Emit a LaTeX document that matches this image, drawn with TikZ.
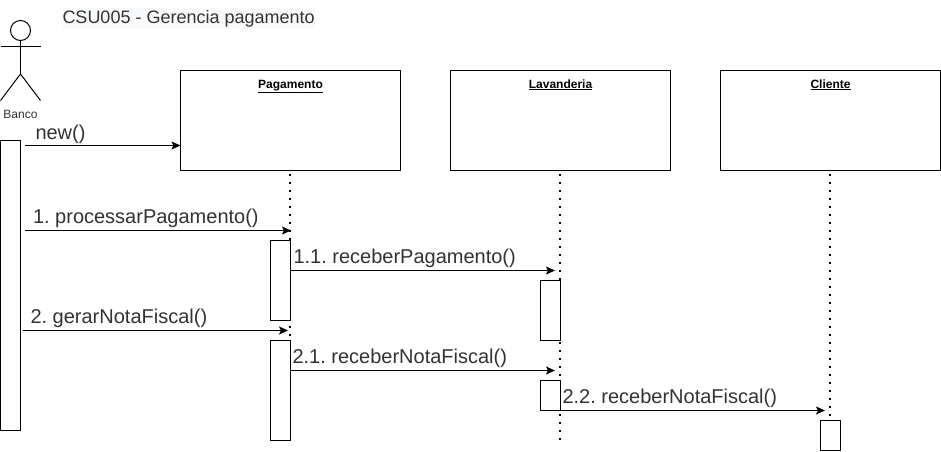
\documentclass[tikz,border=0pt]{standalone}
\usepackage{fontspec}
\setmainfont{Liberation Sans}
\usetikzlibrary{arrows.meta}
\definecolor{msgtext}{HTML}{333333}
\definecolor{titlebg}{HTML}{F8F9FA}
\frenchspacing
\tikzset{
  x=1pt,y=-1pt,
  every path/.style={line width=1pt},
  objbox/.style={draw=black,fill=white,minimum width=220pt,minimum height=100pt,inner sep=0pt,outer sep=0pt,anchor=north west},
  objname/.style={font=\fontsize{12}{14}\selectfont\bfseries,inner sep=0pt,anchor=base,text=black},
  actbox/.style={draw=black,fill=white,minimum width=20pt,inner sep=0pt,outer sep=0pt,anchor=north west},
  lifeline/.style={line width=1.8pt,dash pattern=on 1.8pt off 6.2pt},
  msg/.style={-{Stealth[length=9pt,width=8pt,inset=2pt]},line width=1pt},
  msglabel/.style={font=\fontsize{20}{22}\selectfont,text=msgtext,inner sep=0pt,anchor=base west},
}
\begin{document}
\begin{tikzpicture}
\useasboundingbox (0,0) rectangle (941,451);
\fill[white] (0,0) rectangle (941,451);
% title
\node[font=\fontsize{18}{20}\selectfont,text=msgtext,fill=titlebg,inner xsep=0pt,inner ysep=2pt,anchor=base west] (title) at (62,23) {CSU005 - Gerencia pagamento};
% lifelines
\coordinate (l1s) at (290.3,174);
\coordinate (l1e) at (290.3,441);
\coordinate (l2s) at (560.3,174);
\coordinate (l2e) at (560.3,441);
\coordinate (l3s) at (830.2,174);
\coordinate (l3e) at (830.2,421);
\draw[lifeline] (l1s) -- (l1e);
\draw[lifeline] (l2s) -- (l2e);
\draw[lifeline] (l3s) -- (l3e);
% objects
\node[objbox] (pag) at (180.5,70.5) {};
\node[objbox] (lav) at (450.5,70.5) {};
\node[objbox] (cli) at (720.5,70.5) {};
\node[objname] (pagt) at (290.5,88) {\underline{Pagamento}};
\node[objname] (lavt) at (560.5,88) {\underline{Lavanderia}};
\node[objname] (clit) at (830.5,88) {\underline{Cliente}};
% actor
\node[draw=black,circle,minimum size=20pt,inner sep=0pt,outer sep=0pt] (head) at (20.5,30.5) {};
\coordinate (hip) at (20.5,74);
\coordinate (armL) at (0.5,46.5);
\coordinate (armR) at (40.5,46.5);
\coordinate (footL) at (0.5,100.5);
\coordinate (footR) at (40.5,100.5);
\draw (head.south) -- (hip);
\draw (armL) -- (armR);
\draw (footL) -- (hip) -- (footR);
\node[font=\fontsize{12}{14}\selectfont,text=msgtext,inner sep=0pt] (banco) at (20.5,114) {Banco};
% activations
\node[actbox,minimum height=290pt] (a0) at (0.5,140.5) {};
\node[actbox,minimum height=80pt] (a1) at (270.5,240.5) {};
\node[actbox,minimum height=100pt] (a2) at (270.5,340.5) {};
\node[actbox,minimum height=60pt] (a3) at (540.5,280.5) {};
\node[actbox,minimum height=30pt] (a4) at (540.5,380.5) {};
\node[actbox,minimum height=30pt] (a5) at (820.5,420.5) {};
% message ends
\coordinate (m0s) at (25,145.5);
\coordinate (m1s) at (25,230.5);
\coordinate (m1e) at (291,230.5);
\coordinate (m2s) at (290.5,270.5);
\coordinate (m2e) at (555,270.5);
\coordinate (m3s) at (23,330.5);
\coordinate (m3e) at (288,330.5);
\coordinate (m4s) at (290.5,370.5);
\coordinate (m4e) at (555,370.5);
\coordinate (m5s) at (560.5,410.5);
\coordinate (m5e) at (825,410.5);
\draw[msg] (m0s) -- (m0s -| pag.west);
\draw[msg] (m1s) -- (m1e);
\draw[msg] (m2s) -- (m2e);
\draw[msg] (m3s) -- (m3e);
\draw[msg] (m4s) -- (m4e);
\draw[msg] (m5s) -- (m5e);
% labels
\node[msglabel] (t0) at (35,139) {new()};
\node[msglabel] (t1) at (32.5,223) {1. processarPagamento()};
\node[msglabel] (t2) at (293,263) {1.1. receberPagamento()};
\node[msglabel] (t3) at (30,323) {2. gerarNotaFiscal()};
\node[msglabel] (t4) at (292,363) {2.1. receberNotaFiscal()};
\node[msglabel] (t5) at (562,403) {2.2. receberNotaFiscal()};
\end{tikzpicture}
\end{document}
